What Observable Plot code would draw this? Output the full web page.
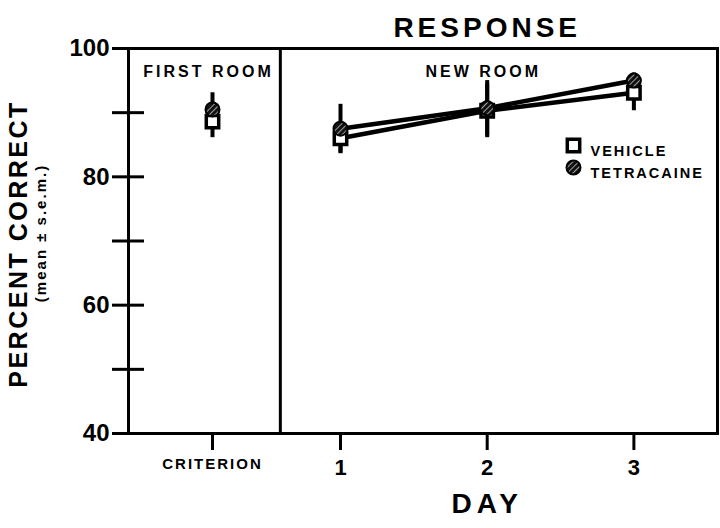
<!DOCTYPE html>
<html>
<head>
<meta charset="utf-8">
<script src="https://cdn.jsdelivr.net/npm/d3@7"></script>
<script src="https://cdn.jsdelivr.net/npm/@observablehq/plot@0.6"></script>
<style>
  html, body { margin: 0; padding: 0; background: #fff; }
</style>
</head>
<body>
<div id="chart"></div>
<script>
// ---- data ----
const conditions = ["CRITERION", "1", "2", "3"];
const conditionX = [0, 1, 2, 3];           // criterion, day 1..3
const vehicleMean = [88.6, 86.0, 90.3, 93.1];
const vehicleSem  = [2.5, 2.4, 4.2, 2.8];
const tetraMean   = [90.5, 87.5, 90.7, 95.0];
const tetraSem    = [2.6, 3.8, 4.3, 1.2];
const seriesNames = ["VEHICLE", "TETRACAINE"];
const yTicksAll   = [40, 50, 60, 70, 80, 90, 100];
const yTickLabels = [40, 60, 80, 100];
const rooms = [{name: "FIRST ROOM", x: 0}, {name: "NEW ROOM", x: 2}];
const roomBoundary = 0.53;

// build rows
const rows = [];
conditionX.forEach((x, i) => {
  rows.push({x, cond: conditions[i], series: "VEHICLE", mean: vehicleMean[i], sem: vehicleSem[i]});
  rows.push({x, cond: conditions[i], series: "TETRACAINE", mean: tetraMean[i], sem: tetraSem[i]});
});
const dayRows = rows.filter(d => d.x >= 1);
const veh = rows.filter(d => d.series === "VEHICLE");
const tet = rows.filter(d => d.series === "TETRACAINE");

const FONT = "'Liberation Sans', Arial, sans-serif";

const svg = Plot.plot({
  width: 720,
  height: 528,
  marginLeft: 128,
  marginRight: 3,
  marginTop: 48,
  marginBottom: 95,
  style: {fontFamily: FONT, fontWeight: "bold", background: "#fff", color: "#000"},
  x: {type: "linear", domain: [-0.6, 0, 1, 3.57], range: [128, 212, 340, 717], label: null},
  y: {domain: [40, 100], label: null},
  marks: [
    // y ticks crossing the axis
    Plot.axisY(yTicksAll, {anchor: "left", tickSize: 16, strokeWidth: 3, tickFormat: () => "", label: null}),
    Plot.axisY(yTicksAll, {anchor: "left", tickSize: 16, dx: 16, strokeWidth: 3, tickFormat: () => "", label: null}),
    Plot.axisY(yTickLabels, {anchor: "left", tickSize: 0, tickPadding: 19, fontSize: 24, label: null}),
    // x ticks
    Plot.axisX([0], {anchor: "bottom", tickSize: 17, strokeWidth: 3, tickPadding: 8, fontSize: 15,
      tickFormat: () => conditions[0], label: null}),
    Plot.axisX([1, 2, 3], {anchor: "bottom", tickSize: 17, strokeWidth: 3, tickPadding: 9, fontSize: 22,
      tickFormat: d => conditions[d], label: null}),
    // frame and room divider
    Plot.frame({stroke: "#000", strokeWidth: 3}),
    Plot.ruleX([roomBoundary], {stroke: "#000", strokeWidth: 3}),
    // room labels
    Plot.text(rooms, {x: "x", text: "name", frameAnchor: "top", dx: -4, dy: 17, fontSize: 16, fontWeight: "bold"}),
    // error bars
    Plot.ruleX(rows, {x: "x", y1: d => d.mean - d.sem, y2: d => d.mean + d.sem, stroke: "#000", strokeWidth: 4}),
    // lines over days
    Plot.line(dayRows, {x: "x", y: "mean", z: "series", stroke: "#000", strokeWidth: 4.5}),
    // markers
    Plot.dot(veh, {x: "x", y: "mean", symbol: "square", r: 7, fill: "#fff", stroke: "#000", strokeWidth: 3.5}),
    Plot.dot(tet, {x: "x", y: "mean", symbol: "circle", r: 7, fill: "url(#hatch)", stroke: "#000", strokeWidth: 2}),
    // legend
    Plot.dot([seriesNames[0]], {frameAnchor: "top-right", dx: -144, dy: 97, symbol: "square", r: 7,
      fill: "#fff", stroke: "#000", strokeWidth: 3.5}),
    Plot.dot([seriesNames[1]], {frameAnchor: "top-right", dx: -144, dy: 119, symbol: "circle", r: 7,
      fill: "url(#hatch)", stroke: "#000", strokeWidth: 2}),
    Plot.text([seriesNames[0]], {frameAnchor: "top-right", dx: -127, dy: 97, textAnchor: "start",
      fontSize: 14.5, fontWeight: "bold"}),
    Plot.text([seriesNames[1]], {frameAnchor: "top-right", dx: -127, dy: 119, textAnchor: "start",
      fontSize: 14.5, fontWeight: "bold"}),
    // title and axis labels
    Plot.text([{t: "RESPONSE", x: 2}], {x: "x", text: "t", frameAnchor: "top", dy: -31, fontSize: 28,
      fontWeight: "bold"}),
    Plot.text([{t: "DAY", x: 2}], {x: "x", text: "t", frameAnchor: "bottom", dy: 79, fontSize: 28,
      fontWeight: "bold"}),
    Plot.text(["PERCENT CORRECT"], {frameAnchor: "left", textAnchor: "middle", dx: -110, dy: 3, rotate: -90,
      fontSize: 25, fontWeight: "bold"}),
    Plot.text(["(mean ± s.e.m.)"], {frameAnchor: "left", textAnchor: "middle", dx: -87, dy: -8, rotate: -90,
      fontSize: 15, fontWeight: "bold"})
  ]
});

d3.select(svg).insert("defs", ":first-child").html(
  '<pattern id="hatch" patternUnits="userSpaceOnUse" width="4" height="4" patternTransform="rotate(45)">' +
  '<rect width="4" height="4" fill="#111"/>' +
  '<line x1="0" y1="0" x2="0" y2="4" stroke="#fff" stroke-width="1.2"/>' +
  '</pattern>'
);

// letter spacing for the typewriter-like lettering
const spacing = {
  "RESPONSE": 4, "DAY": 5, "PERCENT CORRECT": 2.5, "(mean ± s.e.m.)": 2,
  "FIRST ROOM": 3, "NEW ROOM": 3, "VEHICLE": 2, "TETRACAINE": 2, "CRITERION": 2
};
d3.select(svg).selectAll("text").each(function() {
  const s = spacing[this.textContent];
  if (s !== undefined) this.setAttribute("letter-spacing", s);
});

document.getElementById("chart").appendChild(svg);
</script>
</body>
</html>
